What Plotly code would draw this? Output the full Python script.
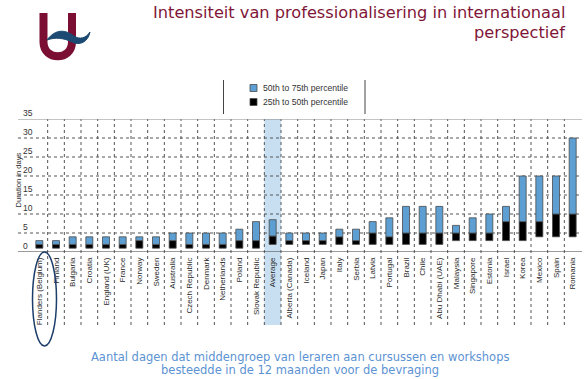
import plotly.graph_objects as go

countries = ["Flanders (Belgium)", "Finland", "Bulgaria", "Croatia", "England (UK)", "France",
             "Norway", "Sweden", "Australia", "Czech Republic", "Denmark", "Netherlands", "Poland",
             "Slovak Republic", "Average", "Alberta (Canada)", "Iceland", "Japan", "Italy", "Serbia",
             "Latvia", "Portugal", "Brazil", "Chile", "Abu Dhabi (UAE)", "Malaysia", "Singapore",
             "Estonia", "Israel", "Korea", "Mexico", "Spain", "Romania"]
p25 = [1, 1, 1, 1, 1, 1, 1, 1, 1, 1, 1, 1, 1, 1, 2.0, 2, 2, 2, 2, 2, 2, 2, 2, 2, 2, 3, 3, 3, 3, 3, 4, 4, 4]
p50 = [2, 2, 2, 2, 2, 2, 3, 2, 3, 2, 2, 2, 3, 3, 4.2, 3, 3, 3, 4, 3, 5, 4, 5, 5, 5, 5, 5, 5, 8, 8, 8, 10, 10]
p75 = [3, 3, 4, 4, 4, 4, 4, 4, 5, 5, 5, 5, 6, 8, 8.5, 5, 5, 5, 6, 6, 8, 9, 12, 12, 12, 7, 9, 10, 12, 20, 20, 20, 30]
yticks = [0, 5, 10, 15, 20, 25, 30, 35]

W, H = 587, 379
L, R, T, B = 18, 5, 119, 127
PW, PH = W - L - R, H - T - B


def px(x):
    return (x - L) / PW


def py(y):
    return (H - B - y) / PH


BLUE = "#5d9fd2"
EDGE = "#4a4a4a"
TXT = "#333333"

fig = go.Figure()
fig.add_trace(go.Bar(x=countries, y=[m - a for a, m in zip(p25, p50)], base=p25,
                     width=0.42, marker=dict(color="#000000", line=dict(color=EDGE, width=0.8)),
                     name="25th to 50th percentile", showlegend=False))
fig.add_trace(go.Bar(x=countries, y=[t - m for m, t in zip(p50, p75)], base=p50,
                     width=0.42, marker=dict(color=BLUE, line=dict(color=EDGE, width=0.8)),
                     name="50th to 75th percentile", showlegend=False))

shapes = []
avg = countries.index("Average")
shapes.append(dict(type="rect", xref="x", yref="paper", x0=avg - 0.5, x1=avg + 0.5,
                   y0=py(325), y1=1, fillcolor="#c8dff1", line=dict(width=0), layer="below"))
for v in yticks[1:-1]:
    shapes.append(dict(type="line", xref="paper", yref="y", x0=0, x1=1, y0=v, y1=v,
                       line=dict(color="#555555", width=1, dash="dot"), layer="below"))
for k in range(len(countries) - 1):
    shapes.append(dict(type="line", xref="x", yref="paper", x0=k + 0.5, x1=k + 0.5,
                       y0=py(325), y1=1, line=dict(color="#555555", width=1, dash="dot"),
                       layer="below"))
shapes.append(dict(type="line", xref="paper", yref="y", x0=0, x1=1, y0=35, y1=35,
                   line=dict(color="#8a8a8a", width=1.2)))
shapes.append(dict(type="line", xref="paper", yref="y", x0=0, x1=1, y0=0, y1=0,
                   line=dict(color="#3a3a3a", width=1.2)))
# legend frame lines
for xx in (223.5, 365):
    shapes.append(dict(type="line", xref="paper", yref="paper", x0=px(xx), x1=px(xx),
                       y0=py(80), y1=py(114), line=dict(color="#444444", width=1)))
# legend squares
for yy, col in ((88, BLUE), (102, "#000000")):
    shapes.append(dict(type="rect", xref="paper", yref="paper", x0=px(250), x1=px(257),
                       y0=py(yy + 3.5), y1=py(yy - 3.5), fillcolor=col,
                       line=dict(color=EDGE, width=0.8)))
# ellipse around Flanders
shapes.append(dict(type="circle", xref="paper", yref="paper", x0=px(32.5), x1=px(56.5),
                   y0=py(346), y1=py(252), line=dict(color="#1d3d6b", width=1.5)))


# logo
def pth(pts):
    s = ""
    for cmd, coords in pts:
        s += cmd + " ".join(f"{px(a):.5f},{py(b):.5f}" for a, b in coords)
    return s


u_path = pth([("M", [(43.5, 13)]), ("L", [(43.5, 42)]),
              ("C", [(43.5, 61), (72, 61), (72, 42)]), ("L", [(72, 13)])])
shapes.append(dict(type="path", xref="paper", yref="paper", path=u_path,
                   line=dict(color="#7a0f33", width=8)))
wave = pth([("M", [(47, 40)]), ("C", [(56, 28), (66, 30), (74, 36)]),
            ("C", [(80, 40), (86, 38), (90, 32)]),
            ("C", [(88, 42), (80, 46), (72, 42)]),
            ("C", [(64, 38), (55, 37), (47, 40)]), ("Z", [])])
shapes.append(dict(type="path", xref="paper", yref="paper", path=wave,
                   fillcolor="#1d4a72", line=dict(color="#1d4a72", width=1)))

annotations = []
for v in yticks:
    annotations.append(dict(xref="paper", yref="y", x=px(20.5), y=v, text=str(v),
                            showarrow=False, xanchor="left", yanchor="bottom", yshift=-1,
                            font=dict(family="Liberation Sans", size=8.5, color=TXT)))
annotations.append(dict(xref="paper", yref="paper", x=px(11.5), y=py(151),
                        text="Duration in days", textangle=-90, showarrow=False,
                        font=dict(family="Liberation Sans", size=7.6, color=TXT)))
for yy, txt in ((88, "50th to 75th percentile"), (102, "25th to 50th percentile")):
    annotations.append(dict(xref="paper", yref="paper", x=px(261), y=py(yy), text=txt,
                            showarrow=False, xanchor="left", yanchor="middle",
                            font=dict(family="Liberation Sans", size=8.6, color=TXT)))
annotations.append(dict(xref="paper", yref="paper", x=px(567), y=py(12),
                        text="Intensiteit van professionalisering in internationaal",
                        showarrow=False, xanchor="right", yanchor="middle",
                        font=dict(family="DejaVu Sans", size=16.2, color="#7f1637")))
annotations.append(dict(xref="paper", yref="paper", x=px(567), y=py(33),
                        text="perspectief", showarrow=False, xanchor="right", yanchor="middle",
                        font=dict(family="DejaVu Sans", size=16.2, color="#7f1637")))
annotations.append(dict(xref="paper", yref="paper", x=px(300), y=py(356.5),
                        text="Aantal dagen dat middengroep van leraren aan cursussen en workshops",
                        showarrow=False, xanchor="center", yanchor="middle",
                        font=dict(family="DejaVu Sans", size=11.5, color="#5c93d3")))
annotations.append(dict(xref="paper", yref="paper", x=px(300), y=py(369.5),
                        text="besteedde in de 12 maanden voor de bevraging",
                        showarrow=False, xanchor="center", yanchor="middle",
                        font=dict(family="DejaVu Sans", size=11.5, color="#5c93d3")))

fig.update_layout(
    width=W, height=H, margin=dict(l=L, r=R, t=T, b=B),
    paper_bgcolor="white", plot_bgcolor="rgba(0,0,0,0)",
    barmode="overlay", showlegend=False,
    shapes=shapes, annotations=annotations,
    xaxis=dict(type="category", range=[-1.28, 32.56], tickangle=-90, showgrid=False,
               showline=False, zeroline=False, ticks="", ticklabelstandoff=3,
               tickfont=dict(family="Liberation Sans Narrow, Liberation Sans", size=8, color="#2a2a2a"),
               fixedrange=True),
    yaxis=dict(range=[0, 35], showticklabels=False, showgrid=False, zeroline=False,
               showline=False, fixedrange=True),
)
fig.write_html("out.html")
